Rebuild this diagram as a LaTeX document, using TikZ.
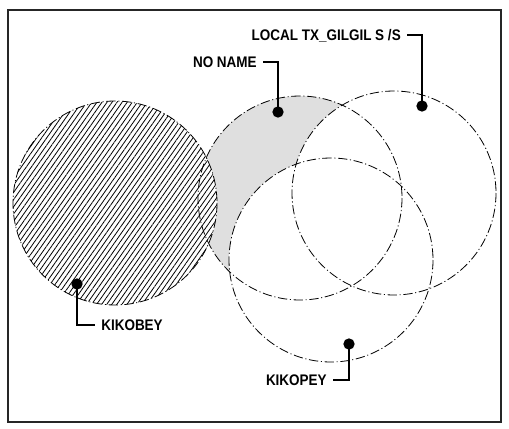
\documentclass[tikz,border=0pt]{standalone}
\usepackage{fontspec}
\setmainfont{Liberation Sans}[FakeStretch=0.88]
\usetikzlibrary{patterns.meta}

\tikzset{
  zone/.style={draw=black, line width=0.6pt, dash pattern=on 7pt off 2pt on 0.8pt off 2pt},
  pin/.style={circle, fill=black, inner sep=0pt, minimum size=8.5pt},
  tag/.style={font=\fontsize{11.5}{12}\selectfont\bfseries, inner xsep=4.5pt, inner ysep=0pt,
    text height=8.3pt, text depth=0pt},
  leader/.style={draw=black, line width=0.8pt},
}

\begin{document}
\begin{tikzpicture}[x=0.75pt, y=-0.75pt]
\useasboundingbox (0,0) rectangle (509,428);
\fill[white] (0,0) rectangle (509,428);
\draw[line width=1.1pt, black!85] (8,10) rectangle (501,422);

% zone centres
\coordinate (kikobey) at (115,203);
\coordinate (noname) at (300,198);
\coordinate (gilgil) at (394,193);
\coordinate (kikopey) at (331,260);

% fills
\fill[gray!25] (noname) circle [radius=102];
\fill[white] (gilgil) circle [radius=102] (kikopey) circle [radius=102];
\fill[white] (kikobey) circle [radius=102];
\fill[pattern={Lines[angle=55,distance=3.1pt,line width=0.6pt]}] (kikobey) circle [radius=102];
\foreach \z in {kikobey,noname,gilgil,kikopey}
  \draw[zone] (\z) circle [radius=102];

% labels
\node[tag, anchor=east] (gilgil-tag) at (407,35) {LOCAL TX\_GILGIL S /S};
\node[tag, anchor=east] (noname-tag) at (263,62) {NO NAME};
\node[tag, anchor=west] (kikobey-tag) at (95,325) {KIKOBEY};
\node[tag, anchor=east] (kikopey-tag) at (333,380) {KIKOPEY};

% leaders
\coordinate (gilgil-at) at (422,106);
\coordinate (noname-at) at (278,112);
\coordinate (kikobey-at) at (77,284);
\coordinate (kikopey-at) at (349,344);
\draw[leader] (gilgil-at) |- (gilgil-tag.east);
\draw[leader] (noname-at) |- (noname-tag.east);
\draw[leader] (kikobey-at) |- (kikobey-tag.west);
\draw[leader] (kikopey-at) |- (kikopey-tag.east);
\node[pin] (gilgil-dot) at (gilgil-at) {};
\node[pin] (noname-dot) at (noname-at) {};
\node[pin] (kikobey-dot) at (kikobey-at) {};
\node[pin] (kikopey-dot) at (kikopey-at) {};
\end{tikzpicture}
\end{document}
